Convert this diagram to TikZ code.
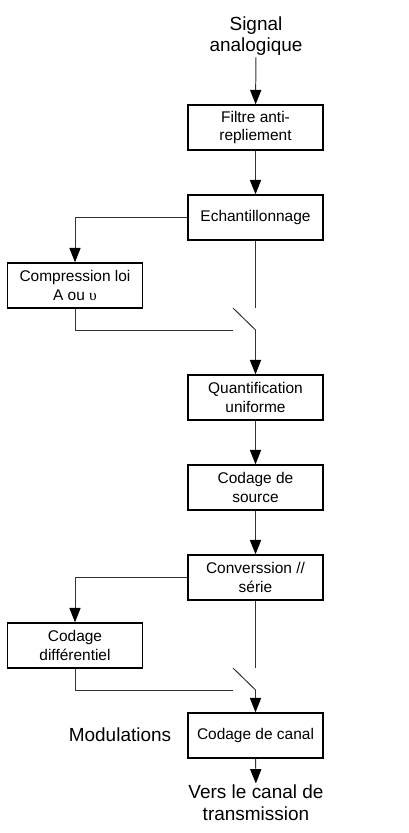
\documentclass[tikz,border=0pt]{standalone}
\usepackage{fontspec}
\setmainfont{Liberation Sans}
\newfontfamily\grecfont{Liberation Serif}
\usetikzlibrary{arrows.meta}

\begin{document}
\begin{tikzpicture}[x=0.025cm, y=-0.025cm,
    bloc/.style={draw=black, line width=1pt, minimum width=3.375cm, minimum height=1.125cm,
      inner sep=1pt, align=center, font=\fontsize{11}{13.5}\selectfont},
    titre/.style={align=center, inner sep=1pt, font=\fontsize{13.5}{15.5}\selectfont},
    lien/.style={draw=black!80, line width=0.7pt},
    fleche/.style={lien, -{Triangle[length=3.6mm, width=2.8mm, color=black]}}]

    \useasboundingbox (0, 0) rectangle (408, 833);

    \node[titre] (signal) at (256, 36) {Signal\\analogique};
    \node[bloc] (filtre) at (255.5, 127.5) {Filtre anti-\\repliement};
    \node[bloc] (echant) at (255.5, 217.5) {Echantillonnage};
    \node[bloc] (compr) at (75, 285.5) {Compression loi\\A ou {\grecfont υ}};
    \node[bloc] (quant) at (255.5, 397.5) {Quantification\\uniforme};
    \node[bloc] (source) at (255.5, 487.5) {Codage de\\source};
    \node[bloc] (conv) at (255.5, 577.5) {Converssion //\\série};
    \node[bloc] (diff) at (75, 645.5) {Codage\\différentiel};
    \node[bloc] (canal) at (255.5, 735.5) {Codage de canal};
    \node[titre] (modul) at (120, 735) {Modulations};
    \node[titre] (vers) at (256, 803) {Vers le canal de\\transmission};

    \coordinate (s1a) at (255.5, 308);
    \coordinate (s1b) at (233, 308);
    \coordinate (s1c) at (255.5, 330);
    \coordinate (s1d) at (233, 330);

    \coordinate (s2a) at (255.5, 668);
    \coordinate (s2b) at (233, 668);
    \coordinate (s2c) at (255.5, 690);
    \coordinate (s2d) at (233, 690);

    \draw[fleche] (signal) -- (filtre);
    \draw[fleche] (filtre) -- (echant);
    \draw[fleche] (echant.west) -| (compr.north);
    \draw[lien] (echant) -- (s1a);
    \draw[lien] (s1b) -- (s1c);
    \draw[lien] (compr.south) |- (s1d);
    \draw[fleche] (s1c) -- (quant);
    \draw[fleche] (quant) -- (source);
    \draw[fleche] (source) -- (conv);
    \draw[fleche] (conv.west) -| (diff.north);
    \draw[lien] (conv) -- (s2a);
    \draw[lien] (s2b) -- (s2c);
    \draw[lien] (diff.south) |- (s2d);
    \draw[fleche] (s2c) -- (canal);
    \draw[fleche] (canal) -- (vers);

  \end{tikzpicture}
\end{document}
